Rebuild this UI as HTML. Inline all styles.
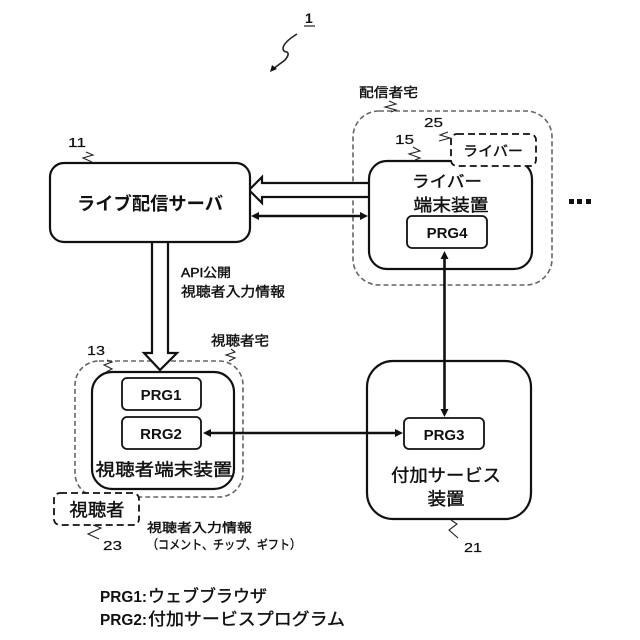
<!DOCTYPE html>
<html lang="ja"><head><meta charset="utf-8"><style>
html,body{margin:0;padding:0;background:#fff}
svg{display:block}
text{font-family:"Liberation Sans","Noto Sans CJK JP",sans-serif;fill:#111}
.b{font-weight:bold}
.m{stroke:#111;stroke-width:.4}
.box{fill:#fff;stroke:#111;stroke-width:2.2}
.dash{fill:none;stroke:#666;stroke-width:1.6;stroke-dasharray:5 3}
.dk{fill:#fff;stroke:#111;stroke-width:1.8;stroke-dasharray:7 4}
.ln{fill:none;stroke:#111;stroke-width:2.6}
.sq{fill:none;stroke:#222;stroke-width:1.1}
.ah{fill:#111;stroke:none}
</style></head><body>
<svg width="640" height="640" viewBox="0 0 640 640" xmlns="http://www.w3.org/2000/svg">
<text x="305" y="23" font-size="14" class="b">1</text>
<line x1="304" y1="26" x2="315" y2="26" stroke="#222" stroke-width="1.2"/>
<path class="sq" style="stroke-width:1.6" d="M297 34 Q284 42 283 48 Q283 52 287 52 Q290 54 285 60 L273 69"/>
<path class="ah" d="M270 72 L272 65 L277 69Z"/>

<rect class="dash" x="353" y="111" width="199" height="174" rx="26"/>
<rect class="dash" x="75" y="361" width="168" height="136" rx="24"/>

<path d="M369 183 H262 V177 L249 190 L262 203 V197 H369" fill="#fff" stroke="#111" stroke-width="2.2"/>
<path d="M152 242 V353 H144 L160 370 L177 353 H168 V242" fill="#fff" stroke="#111" stroke-width="2.2"/>

<rect class="box" x="50" y="163" width="200" height="79" rx="14"/>
<text x="150" y="210" font-size="18" text-anchor="middle" class="b" textLength="146" lengthAdjust="spacingAndGlyphs">ライブ配信サーバ</text>

<rect class="box" x="369" y="161" width="163" height="108" rx="18"/>
<text x="447" y="187" font-size="16" text-anchor="middle" class="m" textLength="70" lengthAdjust="spacingAndGlyphs">ライバー</text>
<text x="451" y="211" font-size="17" text-anchor="middle" class="m" textLength="75" lengthAdjust="spacingAndGlyphs">端末装置</text>
<rect class="box" x="407" y="216" width="80" height="32" rx="5" style="stroke-width:1.8"/>
<text x="447" y="238" font-size="15" text-anchor="middle" class="b">PRG4</text>
<rect class="dk" x="451" y="134" width="85" height="32" rx="6"/>
<text x="493" y="156" font-size="14" text-anchor="middle" class="m" textLength="60" lengthAdjust="spacingAndGlyphs">ライバー</text>

<rect class="box" x="92" y="372" width="142" height="117" rx="20"/>
<rect class="box" x="122" y="378" width="79" height="32" rx="5" style="stroke-width:1.8"/>
<text x="161" y="400" font-size="15" text-anchor="middle" class="b">PRG1</text>
<rect class="box" x="122" y="417" width="79" height="32" rx="5" style="stroke-width:1.8"/>
<text x="161" y="439" font-size="15" text-anchor="middle" class="b">RRG2</text>
<text x="164" y="475.500" font-size="17" text-anchor="middle" class="m" textLength="137" lengthAdjust="spacingAndGlyphs">視聴者端末装置</text>
<rect class="dk" x="54" y="493" width="85" height="32" rx="6"/>
<text x="97" y="516" font-size="17.500" text-anchor="middle" class="m" textLength="55" lengthAdjust="spacingAndGlyphs">視聴者</text>

<rect class="box" x="367" y="361" width="164" height="158" rx="26"/>
<rect class="box" x="404" y="418" width="80" height="31" rx="5" style="stroke-width:1.8"/>
<text x="444" y="440" font-size="15" text-anchor="middle" class="b">PRG3</text>
<text x="446" y="481.500" font-size="17.500" text-anchor="middle" class="m" textLength="110" lengthAdjust="spacingAndGlyphs">付加サービス</text>
<text x="446" y="505" font-size="17.500" text-anchor="middle" class="m" textLength="37" lengthAdjust="spacingAndGlyphs">装置</text>

<line class="ln" x1="256" y1="216" x2="363" y2="216"/>
<path class="ah" d="M251 216 L259 212 V220Z M368 216 L360 212 V220Z"/>
<line class="ln" x1="207" y1="433" x2="398" y2="433"/>
<path class="ah" d="M203 433 L211 429 V437Z M403 433 L395 429 V437Z"/>
<line class="ln" x1="444.500" y1="256" x2="444.500" y2="412"/>
<path class="ah" d="M444.500 251 L440.500 259 H448.500Z M444.500 417 L440.500 409 H448.500Z"/>

<path class="sq" d="M389 101 L396 104 L385 107 L396 110 L391 112"/>
<path class="sq" d="M448 132 L440 135 L450 138 L439 141"/>
<path class="sq" d="M413 147 L420 151 L409 154 L420 158 L415 160"/>
<path class="sq" d="M86 152 L93 155 L83 158 L92 162"/>
<path class="sq" d="M107 360 L112 362 L104 365 L112 369 L106 372"/>
<path class="sq" d="M231 349 L235 352 L226 355 L235 358 L229 361"/>
<path class="sq" d="M93 525 L101 528 L88 534 L99 539"/>
<path class="sq" d="M451 520 L457 524 L449 530 L458 538"/>

<g font-size="13" class="m" style="stroke-width:.2">
<text x="68" y="147" textLength="18" lengthAdjust="spacingAndGlyphs">11</text>
<text x="87" y="355" textLength="18" lengthAdjust="spacingAndGlyphs">13</text>
<text x="395" y="144" textLength="19" lengthAdjust="spacingAndGlyphs">15</text>
<text x="424" y="127" textLength="19" lengthAdjust="spacingAndGlyphs">25</text>
<text x="103" y="550" textLength="19" lengthAdjust="spacingAndGlyphs">23</text>
<text x="464" y="552" textLength="18" lengthAdjust="spacingAndGlyphs">21</text>
</g>

<text x="359" y="97" font-size="13" class="m" textLength="59" lengthAdjust="spacingAndGlyphs">配信者宅</text>
<text x="181" y="277" font-size="12.500" class="m" textLength="50" lengthAdjust="spacingAndGlyphs">API公開</text>
<text x="181" y="296.500" font-size="13.500" class="m" textLength="104" lengthAdjust="spacingAndGlyphs">視聴者入力情報</text>
<text x="211" y="345.500" font-size="13.500" class="m" textLength="58" lengthAdjust="spacingAndGlyphs">視聴者宅</text>
<text x="147" y="532" font-size="12.500" class="m" textLength="105" lengthAdjust="spacingAndGlyphs">視聴者入力情報</text>
<text x="147" y="549" font-size="12.500" class="m" textLength="154" lengthAdjust="spacingAndGlyphs">（コメント、チップ、ギフト）</text>
<text x="100" y="602" font-size="16" class="b" textLength="47" lengthAdjust="spacingAndGlyphs">PRG1:</text>
<text x="148" y="602" font-size="17" class="m" textLength="119" lengthAdjust="spacingAndGlyphs">ウェブブラウザ</text>
<text x="100" y="625" font-size="16" class="b" textLength="47" lengthAdjust="spacingAndGlyphs">PRG2:</text>
<text x="148" y="625" font-size="17" class="m" textLength="197" lengthAdjust="spacingAndGlyphs">付加サービスプログラム</text>

<rect x="569" y="199" width="5" height="5" fill="#111"/>
<rect x="577" y="199" width="5" height="5" fill="#111"/>
<rect x="586" y="199" width="5" height="5" fill="#111"/>
</svg>
</body></html>
